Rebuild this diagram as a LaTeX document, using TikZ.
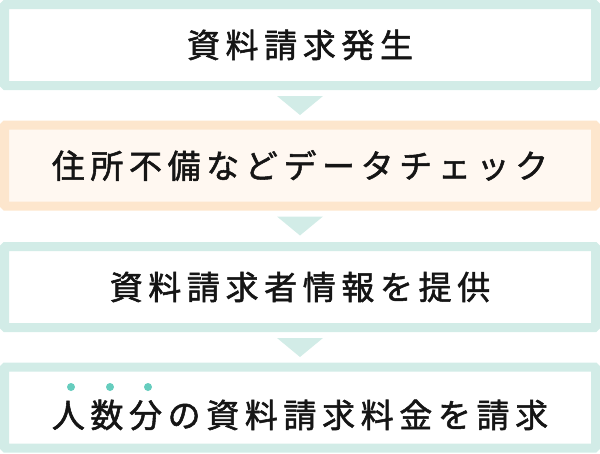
\documentclass[tikz,border=0pt]{standalone}
\usepackage{fontspec}
\usetikzlibrary{calc}
\newfontfamily\jp{Noto Sans CJK JP}[LetterSpace=17,FakeBold=1.6]
\definecolor{tealbd}{HTML}{D2ECE7}
\definecolor{orbd}{HTML}{FDE6CD}
\definecolor{orfill}{HTML}{FFF8F1}
\definecolor{dotc}{HTML}{66CDBE}
\definecolor{txt}{HTML}{151515}
\begin{document}
\begin{tikzpicture}[x=1pt,y=-1pt,
  boxtext/.style={inner sep=0pt, outer sep=0pt, font=\jp\fontsize{33}{33}\selectfont, text=txt},
  stepbox/.style={boxtext, draw=tealbd, fill=white, line width=9pt, rounded corners=1pt,
    minimum width=591pt, minimum height=81pt},
  hibox/.style={stepbox, draw=orbd, fill=orfill},
  tri/.style={fill=tealbd}]
\useasboundingbox (0,0) rectangle (600,453);
\node[stepbox] (b1) at (300,45) {資料請求発生};
\node[hibox]   (b2) at (300,165.5) {住所不備などデータチェック};
\node[stepbox] (b3) at (300,287) {資料請求者情報を提供};
\node[stepbox] (b4) at (300,407.5) {};
\node[boxtext] (t4) at ($(b4.center)+(0,7.5)$) {人数分の資料請求料金を請求};
\foreach \a/\b in {b1/b2,b2/b3,b3/b4}{
  \fill[tri] ($(\a.south)+(-23,10.5)$) -- ($(\a.south)+(23,10.5)$) -- ($(\a.south)+(0,29.5)$) -- cycle;
}
\foreach \x in {71,110,148}{
  \fill[dotc] (\x,387) circle (4);
}
\end{tikzpicture}
\end{document}
